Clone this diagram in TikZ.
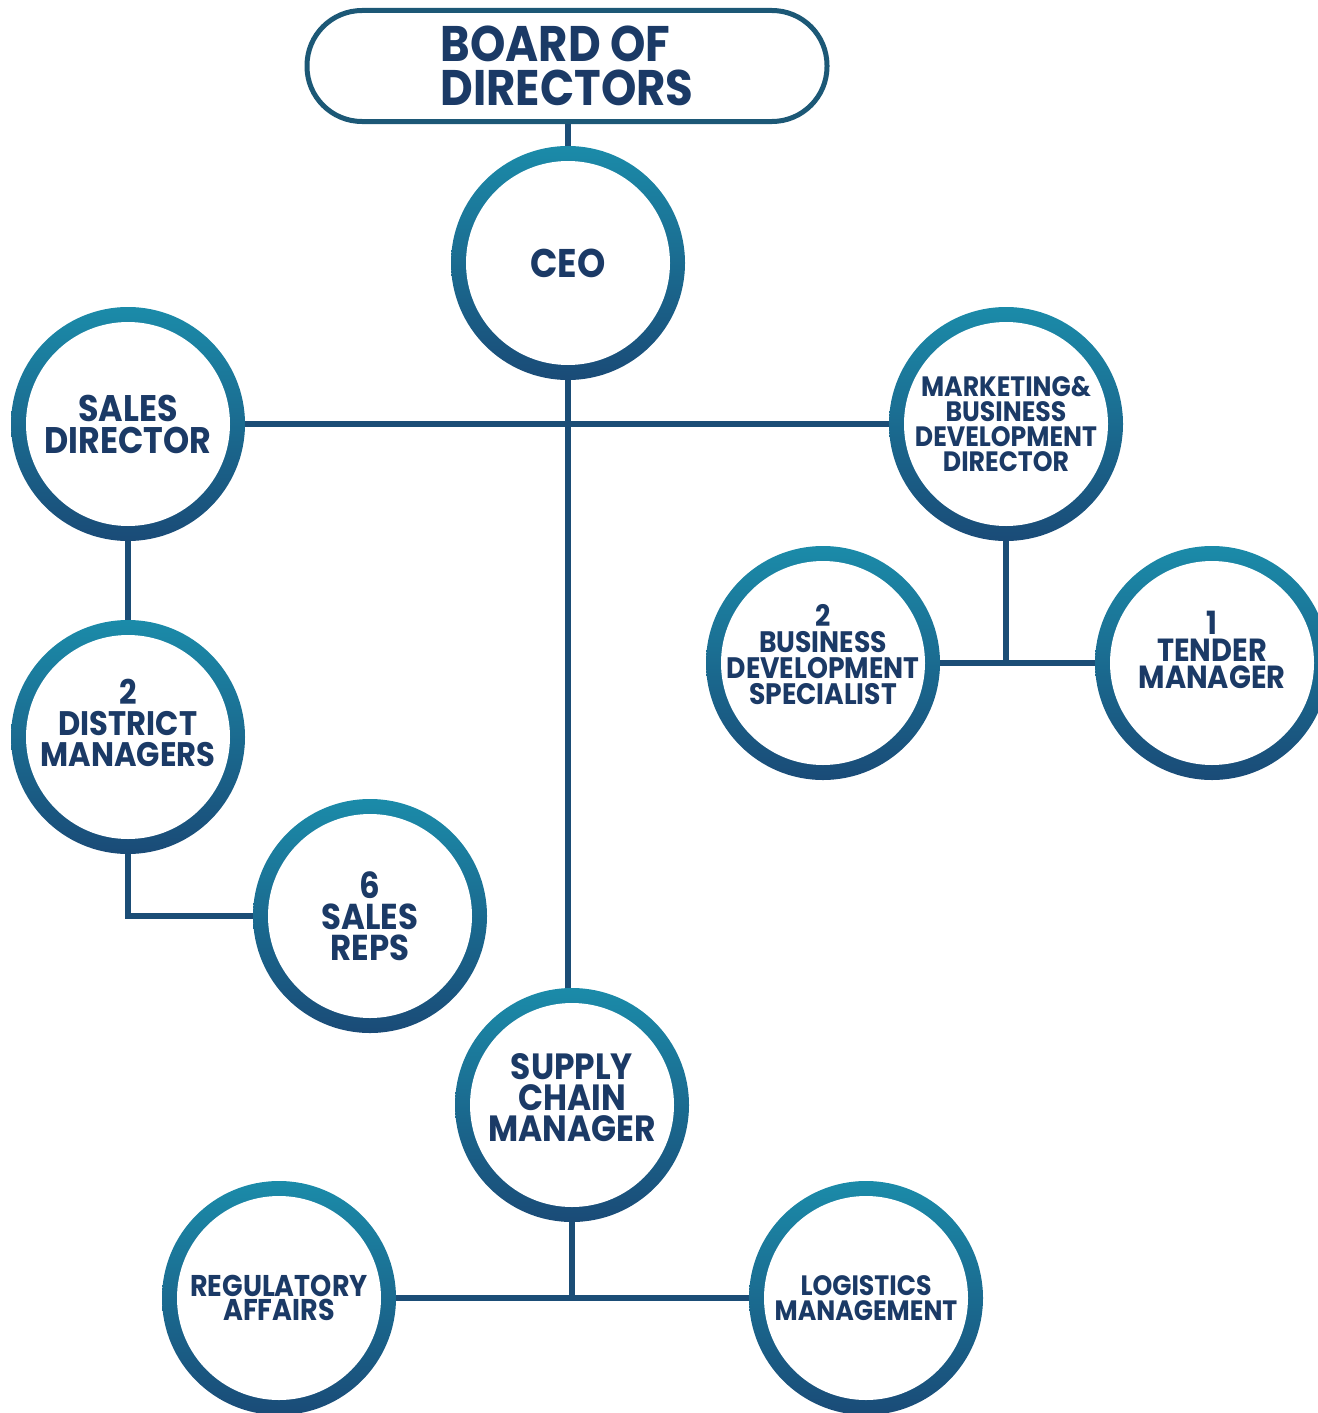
\documentclass[tikz,border=0pt]{standalone}
\usepackage{fontspec}
\setmainfont{Poppins}[FakeStretch=0.9]
\usetikzlibrary{positioning,calc}
\definecolor{ringtop}{HTML}{1B8BA9}
\definecolor{ringbot}{HTML}{1A4B77}
\definecolor{navy}{HTML}{1B3A66}
\definecolor{wire}{HTML}{1B4D76}
\definecolor{frame}{HTML}{1C5876}
\tikzstyle{post}=[circle, minimum size=234pt, inner sep=0pt, align=center, text=navy,
path picture={\shade[top color=ringtop, bottom color=ringbot] (path picture bounding box.south west) rectangle (path picture bounding box.north east);
\fill[white] (path picture bounding box.center) circle (102pt);}]
\tikzstyle{board}=[rectangle, draw=frame, line width=5pt, rounded corners=55pt,
minimum width=520pt, minimum height=111pt, align=left, text=navy, inner sep=0pt]
\tikzstyle{line}=[draw, line width=6pt, color=wire]
\newcommand{\fs}[2]{\fontsize{#1}{#2}\selectfont\bfseries}
\newcommand{\post}[3]{node (p#1)[post,#2]{#3}}
\begin{document}
\begin{tikzpicture}[x=1pt,y=-1pt]
\useasboundingbox (0,0) rectangle (1317,1413);

% Draw diagram elements
\path (567,66) node (pboard)[board,font=\fs{50}{44}]{BOARD OF\\DIRECTORS};
\path (pboard.center)+(1,197) \post{ceo}{font=\fs{40}{40}}{CEO};
\path (pceo.center)+(-440,161) \post{sales}{font=\fs{37}{32}}{SALES\\DIRECTOR};
\path (pceo.center)+(438,161) \post{market}{font=\fs{28}{25}}{MARKETING\&\\BUSINESS\\DEVELOPMENT\\DIRECTOR};
\path (psales.center)+(0,313) \post{dm}{font=\fs{34}{31},text height=68pt,text depth=10pt}{2\\DISTRICT\\MANAGERS};
\path (pdm.center)+(242,179) \post{reps}{font=\fs{36}{31}}{6\\SALES\\REPS};
\path (pmarket.center)+(-183,239) \post{bds}{font=\fs{29.6}{26},text height=93pt,text depth=10pt}{2\\BUSINESS\\DEVELOPMENT\\SPECIALIST};
\path (pmarket.center)+(206,239) \post{tender}{font=\fs{32}{27},text height=60pt,text depth=10pt}{1\\TENDER\\MANAGER};
\path (pceo.center)+(4,842) \post{scm}{font=\fs{36.5}{31},text height=83pt,text depth=10pt}{SUPPLY\\CHAIN\\MANAGER};
\path (pscm.center)+(-293,193) \post{reg}{font=\fs{30}{24}}{REGULATORY\\AFFAIRS};
\path (pscm.center)+(294,193) \post{log}{font=\fs{28}{25}}{LOGISTICS\\MANAGEMENT};

% Draw lines between elements
\path [line] (pceo.north |- pboard.south) -- (pceo.north);
\path [line] (pceo.south) -- (pceo.south |- pscm.north);
\path [line] (psales.east) -- (pmarket.west);
\path [line] (psales.south) -- (pdm.north);
\path [line] (pdm.south) |- (preps.west);
\path [line] (pbds.east) -- (ptender.west);
\path [line] (pmarket.south) -- (pmarket.south |- pbds.east);
\path [line] (preg.east) -- (plog.west);
\path [line] (pscm.south) -- (pscm.south |- preg.east);
\end{tikzpicture}
\end{document}
